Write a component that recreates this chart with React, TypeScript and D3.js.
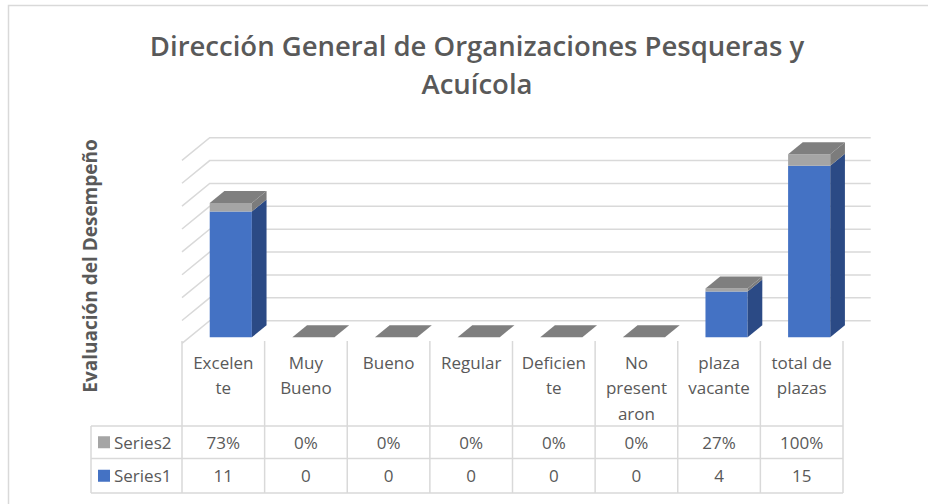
import React from 'react';
import * as d3 from 'd3';

// chart values
const categories = [
  ['Excelen', 'te'],
  ['Muy', 'Bueno'],
  ['Bueno'],
  ['Regular'],
  ['Deficien', 'te'],
  ['No', 'present', 'aron'],
  ['plaza', 'vacante'],
  ['total de', 'plazas'],
];
const series1 = [11, 0, 0, 0, 0, 0, 4, 15];
const series2 = [0.73, 0, 0, 0, 0, 0, 0.27, 1];
const seriesNames = ['Series2', 'Series1'];
const titleLines = ['Dirección General de Organizaciones Pesqueras y', 'Acuícola'];
const axisTitle = 'Evaluación del Desempeño';

const W = 928;
const H = 504;
const FONT = "'Open Sans', 'Noto Sans', sans-serif";
const TXT = '#595959';
const GRID = '#d9d9d9';

// oblique depth vector of the 3D box
const DX = 27.7;
const DY = -22.7;
const D1 = 0.27; // bar front depth
const D2 = 0.8; // bar back depth

const App = () => {
  const keys = categories.map(c => c.join(' '));
  const x = d3.scaleBand<string>().domain(keys).range([182, 843]);
  const y = d3.scaleLinear().domain([0, 16]).range([343.4, 160.4]);
  const ticks = y.ticks(8);
  const pct = d3.format('.0%');

  const pt = (px: number, v: number, d: number) => [px + d * DX, y(v) + d * DY];
  const poly = (p: number[][]) => p.map(q => q.join(',')).join(' ');

  const barW = x.bandwidth() * 0.51;

  const box = (xl: number, xr: number, v0: number, v1: number, front: string, side: string) => (
    <g>
      <polygon points={poly([pt(xl, v1, D1), pt(xr, v1, D1), pt(xr, v0, D1), pt(xl, v0, D1)])} fill={front} />
      <polygon points={poly([pt(xr, v0, D1), pt(xr, v0, D2), pt(xr, v1, D2), pt(xr, v1, D1)])} fill={side} />
    </g>
  );

  const rowTop = 426;
  const rowMid = 458.5;
  const rowBot = 493;
  const tableLeft = 91;
  const fs = 17;

  return (
    <svg width={W} height={H} style={{ position: 'absolute', left: 0, top: 0 }} fontFamily={FONT}>
      <rect x={0} y={0} width={W} height={H} fill="#fff" />
      {/* chart frame */}
      <path d={`M8.5,${H} V5.5 H${W}`} fill="none" stroke="#d9d9d9" strokeWidth={1.5} />

      {titleLines.map((t, i) => (
        <text key={i} x={477} y={56 + i * 38} textAnchor="middle" fontSize={27.5} fontWeight={600} fill={TXT}>
          {t}
        </text>
      ))}

      <text
        transform={`translate(97,266) rotate(-90)`}
        textAnchor="middle"
        fontSize={19}
        fontWeight={700}
        fill={TXT}
      >
        {axisTitle}
      </text>

      {/* back wall gridlines and left wall diagonals */}
      {ticks.map(t => {
        const [fx, fy] = pt(182, t, 0);
        const [bx, by] = pt(182, t, 1);
        const [ex] = pt(843, t, 1);
        return (
          <path key={t} d={`M${fx},${fy} L${bx},${by} H${ex}`} fill="none" stroke={GRID} strokeWidth={1.5} />
        );
      })}

      {/* bars */}
      {keys.map((k, i) => {
        const cx = (x(k) as number) + x.bandwidth() / 2;
        const xl = cx - barW / 2;
        const xr = cx + barW / 2;
        const v1 = series1[i];
        const v2 = series1[i] + series2[i];
        return (
          <g key={k}>
            {v1 > 0 && box(xl, xr, 0, v1, '#4472c4', '#2b4a85')}
            {series2[i] > 0 && box(xl, xr, v1, v2, '#a5a5a5', '#7c7c7c')}
            <polygon points={poly([pt(xl, v2, D1), pt(xr, v2, D1), pt(xr, v2, D2), pt(xl, v2, D2)])} fill="#7f7f7f" />
          </g>
        );
      })}

      {/* data table */}
      <g stroke={GRID} strokeWidth={1.5} fill="none">
        {[...keys.map(k => x(k) as number), 843].map((bx, i) => (
          <line key={i} x1={bx} x2={bx} y1={341} y2={rowBot} />
        ))}
        <line x1={tableLeft} x2={tableLeft} y1={rowTop} y2={rowBot} />
        {[rowTop, rowMid, rowBot].map(ry => (
          <line key={ry} x1={tableLeft} x2={843} y1={ry} y2={ry} />
        ))}
      </g>
      {keys.map((k, i) => {
        const cx = (x(k) as number) + x.bandwidth() / 2;
        return (
          <g key={k} fill={TXT} fontSize={fs} textAnchor="middle">
            {categories[i].map((line, j) => (
              <text key={j} x={cx} y={362 + j * 25.5} dominantBaseline="central">
                {line}
              </text>
            ))}
            <text x={cx} y={(rowTop + rowMid) / 2} dominantBaseline="central">
              {pct(series2[i])}
            </text>
            <text x={cx} y={(rowMid + rowBot) / 2} dominantBaseline="central">
              {series1[i]}
            </text>
          </g>
        );
      })}
      {seriesNames.map((s, i) => {
        const cy = i === 0 ? (rowTop + rowMid) / 2 : (rowMid + rowBot) / 2;
        return (
          <g key={s}>
            <rect x={98} y={cy - 6} width={12} height={12} fill={i === 0 ? '#a5a5a5' : '#4472c4'} />
            <text x={114} y={cy} dominantBaseline="central" fontSize={fs} fill={TXT}>
              {s}
            </text>
          </g>
        );
      })}
    </svg>
  );
};

export default App;
